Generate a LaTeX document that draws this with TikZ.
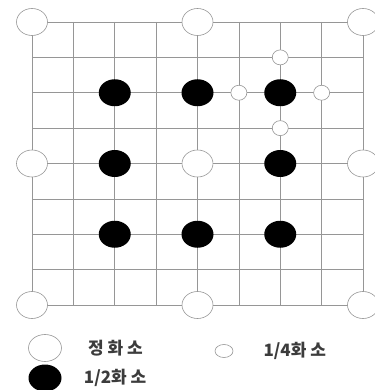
\documentclass[tikz,border=0pt]{standalone}
\usepackage{fontspec}
\newfontfamily\krfont{Noto Sans CJK KR}
\usepackage{tikz}
\usetikzlibrary{shapes.geometric, positioning}
\definecolor{gridgray}{RGB}{150, 150, 150}
\definecolor{labelgray}{RGB}{60, 60, 60}

\begin{document}
\begin{tikzpicture}[x=1pt, y=-1pt,
        gridline/.style={gridgray, line width=0.6pt},
        fullpel/.style={ellipse, draw=gridgray, fill=white, line width=0.6pt,
                        minimum width=31pt, minimum height=27pt, inner sep=0pt},
        halfpel/.style={ellipse, fill=black, minimum width=32pt,
                        minimum height=27pt, inner sep=0pt},
        quarterpel/.style={ellipse, draw=gridgray, fill=white, line width=0.6pt,
                           minimum width=16pt, minimum height=15pt, inner sep=0pt},
        legendtext/.style={font=\krfont\bfseries\fontsize{17}{19}\selectfont,
                           text=labelgray, inner sep=0pt}]
    \useasboundingbox (0,0) rectangle (374,390);

    % grid 8 x 8
    \foreach \i in {0,...,8} {
        \draw[gridline] ({32+41.375*\i},22) -- ({32+41.375*\i},305);
        \draw[gridline] (32,{22+35.375*\i}) -- (363,{22+35.375*\i});
    }

    % full pels
    \foreach \c/\r in {0/0, 4/0, 8/0, 0/4, 4/4, 8/4, 0/8, 4/8, 8/8}
        \node[fullpel] (f\c\r) at ({32+41.375*\c},{22+35.375*\r}) {};

    % half pels
    \foreach \c/\r in {2/2, 4/2, 6/2, 2/4, 6/4, 2/6, 4/6, 6/6}
        \node[halfpel] (h\c\r) at ({32+41.375*\c},{22+35.375*\r}) {};

    % quarter pels
    \foreach \c/\r in {6/1, 5/2, 7/2, 6/3}
        \node[quarterpel] (q\c\r) at ({32+41.375*\c},{22+35.375*\r}) {};

    % legend
    \node[fullpel, minimum width=33pt, minimum height=27pt] (legfull) at (45,348) {};
    \node[legendtext, right=26pt of legfull] (legfulltext) {정 화 소};
    \node[quarterpel, minimum width=18pt, minimum height=13pt] (legquarter) at (224,351) {};
    \node[legendtext, right=30pt of legquarter] (legquartertext) {1/4화 소};
    \node[halfpel, minimum width=33pt] (leghalf) at (45,378) {};
    \node[legendtext, right=22pt of leghalf] (leghalftext) {1/2화 소};
\end{tikzpicture}
\end{document}
